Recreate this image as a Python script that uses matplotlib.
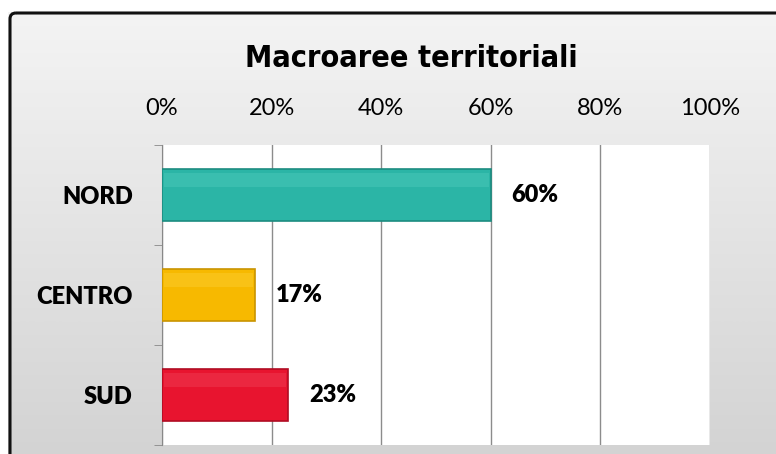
import numpy as np
import matplotlib.pyplot as plt
from matplotlib.colors import LinearSegmentedColormap
from matplotlib.patches import FancyBboxPatch

categories = ['NORD', 'CENTRO', 'SUD']
values = [60, 17, 23]
colors = ['#2bb5a6', '#f7b900', '#e8142f']
edge_colors = ['#1c8c80', '#c99400', '#b00c22']
light_colors = ['#5fd3c6', '#ffd84a', '#f4566a']
ticks = [0, 20, 40, 60, 80, 100]

fig = plt.figure(figsize=(7.76, 4.54), dpi=100)

# background frame with a grey gradient
bg = fig.add_axes([0, 0, 1, 1])
grad = np.linspace(0, 1, 256).reshape(-1, 1)
cmap = LinearSegmentedColormap.from_list('g', ['#f4f4f4', '#d2d2d2'])
bg.imshow(grad, extent=[8, 790, 470, 12], cmap=cmap, aspect='auto', zorder=0)
frame = FancyBboxPatch((10, 13), 800, 480, boxstyle='round,pad=0,rounding_size=6',
                       fill=False, ec='#111111', lw=2.2, zorder=2)
bg.add_patch(frame)
bg.set_xlim(0, 776)
bg.set_ylim(454, 0)
bg.axis('off')

fig.text(0.530, 0.852, 'Macroaree territoriali', ha='center', va='baseline',
         fontsize=22, fontweight='bold', fontstretch='condensed',
         family=['DejaVu Sans'])

ax = fig.add_axes([0.2088, 0.0198, 0.7062, 0.6608])
ax.set_facecolor('white')
y = np.arange(len(categories))
ax.barh(y, values, height=0.52, color=colors, edgecolor=edge_colors, lw=1.2, zorder=3)
# soft highlight near the top of each bar (bevel look)
ax.barh(y - 0.15, [v - 0.8 for v in values], left=0.4, height=0.14,
        color=light_colors, alpha=0.3, lw=0, zorder=4)
for yi, v in zip(y, values):
    ax.text(v + 3.8, yi, f'{v}%', va='center', ha='left', fontsize=17,
            fontweight='heavy', family=['Lato', 'DejaVu Sans'])

ax.set_xlim(0, 100)
ax.set_ylim(2.5, -0.5)
ax.xaxis.tick_top()
ax.set_xticks(ticks)
ax.set_xticklabels([f'{t}%' for t in ticks], fontsize=17, family=['Lato', 'DejaVu Sans'])
ax.tick_params(axis='x', length=0, pad=19)
ax.set_yticks(y)
ax.set_yticklabels(categories, fontsize=17, fontweight='heavy', family=['Lato', 'DejaVu Sans'])
ax.set_yticks([-0.5, 0.5, 1.5, 2.5], minor=True)
ax.tick_params(axis='y', which='major', length=0, pad=21)
ax.tick_params(axis='y', which='minor', length=6, color='#888888')
ax.grid(axis='x', color='#8c8c8c', lw=1, zorder=1)
for s in ['top', 'right', 'bottom']:
    ax.spines[s].set_visible(False)
ax.spines['left'].set_color('#888888')

fig.savefig('out.png', dpi=100)
